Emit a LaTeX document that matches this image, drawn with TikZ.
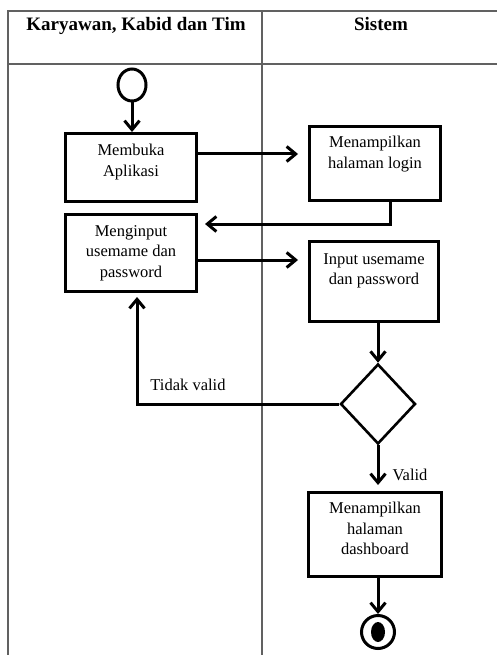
\documentclass[tikz,border=0pt]{standalone}
\usepackage{fontspec}
\setmainfont{Liberation Serif}
\usetikzlibrary{arrows.meta}
\usetikzlibrary{positioning}
\usetikzlibrary{shapes.geometric}

\begin{document}
\begin{tikzpicture}[x=1pt,y=-1pt,
  lane/.style={draw=black!62,line width=1.6pt},
  lanetitle/.style={anchor=base,font=\fontsize{19}{22}\selectfont\bfseries},
  actbox/.style={draw,line width=3pt,inner sep=0pt},
  acttext/.style={align=center,inner sep=2pt,font=\fontsize{16.5}{20.5}\selectfont},
  guard/.style={font=\fontsize{16.5}{19}\selectfont},
  flow/.style={line width=3pt,-{Straight Barb[length=9pt,width=15pt]}}]
  \useasboundingbox (0,0) rectangle (497,655);
  \draw[lane] (497,11) -- (8,11) -- (8,655);
  \draw[lane] (8,64) -- (497,64);
  \draw[lane] (262,11) -- (262,655);
  \node[lanetitle] (user) at (136,31) {Karyawan, Kabid dan Tim};
  \node[lanetitle] (sys) at (381,31) {Sistem};

  \node[draw,ellipse,line width=3pt,minimum width=28pt,minimum height=32pt] (start) at (132,85) {};
  \node[actbox,minimum width=131pt,minimum height=68pt] (buka) at (131,167.5) {};
  \node[acttext,below=10pt of buka.north] (bukatext) {Membuka\\Aplikasi};
  \node[actbox,minimum width=131pt,minimum height=74pt] (login) at (375,163.5) {};
  \node[acttext,below=9pt of login.north] (logintext) {Menampilkan\\halaman login};
  \node[actbox,minimum width=131pt,minimum height=77pt] (ngin) at (131,253) {};
  \node[acttext,below=10pt of ngin.north] (ngintext) {Menginput\\usemame dan\\password};
  \node[actbox,minimum width=129pt,minimum height=80pt] (inp) at (374,281.5) {};
  \node[acttext,below=11pt of inp.north] (inptext) {Input usemame\\dan password};
  \node[draw,diamond,line width=2.6pt,inner sep=0pt,minimum width=75pt,minimum height=80pt] (dec) at (378,404) {};
  \node[actbox,minimum width=133pt,minimum height=84pt] (dash) at (375,534.5) {};
  \node[acttext,below=9pt of dash.north] (dashtext) {Menampilkan\\halaman\\dashboard};
  \node[draw,circle,line width=3pt,minimum size=33pt] (fin) at (378,632) {};
  \node[fill,ellipse,inner sep=0pt,minimum width=14pt,minimum height=20pt] (findot) at (fin.center) {};

  \node[guard] (tidak) at (188,385) {Tidak valid};
  \node[guard] (valid) at (410,475) {Valid};

  \draw[flow] (start.south) -- (start.south |- buka.north);
  \draw[flow,shorten >=10pt] ([yshift=13.5pt]buka.east) -- ([yshift=13.5pt]buka.east -| login.west);
  \draw[flow,shorten >=7pt] ([xshift=15pt]login.south) |- ([yshift=29pt]ngin.east);
  \draw[flow,shorten >=10pt] ([yshift=-7pt]ngin.east) -- ([yshift=-7pt]ngin.east -| inp.west);
  \draw[flow] (inp.south -| dec.north) -- (dec.north);
  \draw[flow,shorten >=4pt] (dec.west) -| ([xshift=6pt]ngin.south);
  \draw[flow,shorten >=6pt] (dec.south) -- (dec.south |- dash.north);
  \draw[flow] (dash.south -| fin.north) -- (fin.north);
\end{tikzpicture}
\end{document}
